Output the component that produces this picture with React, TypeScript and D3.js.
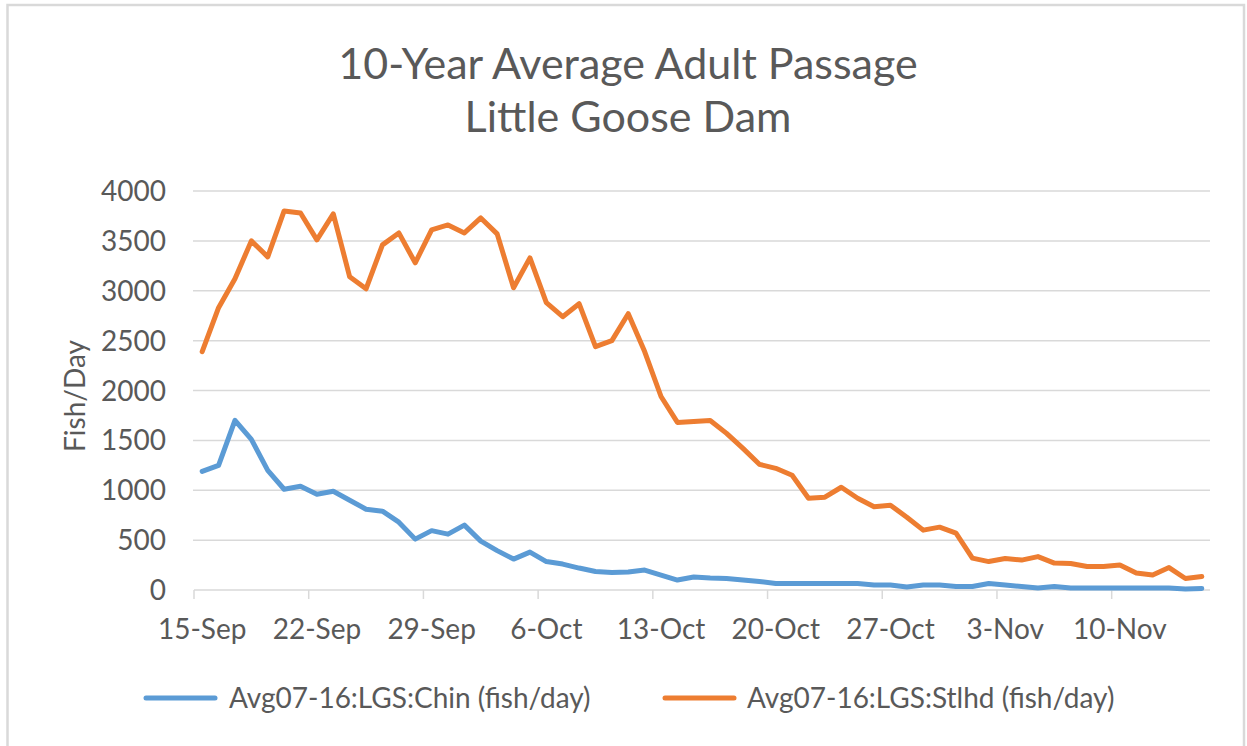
import React from 'react'
import * as d3 from 'd3'

// Sep 15 .. Nov 15, one value per day
const startDate = new Date(2016, 8, 15)
const days = d3.timeDay.range(startDate, new Date(2016, 10, 16))

const chinook = [
  1190, 1250, 1700, 1510, 1200, 1010, 1040, 960, 990, 900,
  810, 790, 680, 510, 595, 560, 650, 490, 395, 310,
  380, 285, 260, 220, 185, 175, 180, 200, 150, 100,
  130, 120, 115, 100, 85, 65, 65, 65, 65, 65,
  65, 50, 50, 30, 50, 50, 35, 35, 65, 50,
  35, 20, 35, 20, 20, 20, 20, 20, 20, 20,
  10, 15
]

const steelhead = [
  2390, 2830, 3120, 3500, 3340, 3800, 3780, 3510, 3770, 3140,
  3020, 3460, 3580, 3280, 3610, 3660, 3580, 3730, 3570, 3030,
  3330, 2880, 2740, 2870, 2440, 2500, 2770, 2390, 1940, 1680,
  1690, 1700, 1570, 1420, 1260, 1220, 1150, 920, 930, 1030,
  920, 835, 850, 730, 600, 630, 570, 320, 285, 315,
  300, 335, 270, 265, 235, 235, 250, 170, 150, 225,
  115, 135
]

const tickLabels = ['15-Sep', '22-Sep', '29-Sep', '6-Oct', '13-Oct', '20-Oct', '27-Oct', '3-Nov', '10-Nov']
const yTicks = [0, 500, 1000, 1500, 2000, 2500, 3000, 3500, 4000]

const series = [
  { name: 'Avg07-16:LGS:Chin (fish/day)', values: chinook, color: '#5B9BD5' },
  { name: 'Avg07-16:LGS:Stlhd (fish/day)', values: steelhead, color: '#ED7D31' }
]

const width = 1247
const height = 746
const plot = { left: 194, right: 1210, top: 191, bottom: 590 }
const font = 'Lato, "Open Sans", sans-serif'
const textColor = '#595959'
const gridColor = '#d9d9d9'

export default function App() {
  const x = d3.scaleBand<number>()
    .domain(d3.range(days.length))
    .range([plot.left, plot.right])
  const y = d3.scaleLinear().domain([0, 4000]).range([plot.bottom, plot.top])
  const cx = (i: number) => (x(i) as number) + x.bandwidth() / 2

  const line = d3.line<number>()
    .x((_, i) => cx(i))
    .y(d => y(d))

  // a tick and a label every 7 days
  const tickIdx = d3.range(0, days.length, 7)

  const legendItems = [
    { x: 146, textX: 229 },
    { x: 665, textX: 747 }
  ]

  return (
    <svg width={width} height={height} style={{ position: 'absolute', left: 0, top: 0, background: '#fff' }}>
      <rect x={7.5} y={5} width={1236.5} height={800} fill="#fff" stroke={gridColor} strokeWidth={2.5} />

      <text x={628} y={79} textAnchor="middle" fontFamily={font} fontSize={43} fill={textColor}>
        10-Year Average Adult Passage
      </text>
      <text x={628} y={132} textAnchor="middle" fontFamily={font} fontSize={43} fill={textColor}>
        Little Goose Dam
      </text>

      {yTicks.map(t => (
        <g key={t}>
          {t > 0 && <line x1={plot.left - 1} x2={plot.right} y1={y(t)} y2={y(t)} stroke={gridColor} strokeWidth={1.5} />}
          <text x={166} y={y(t) + 10} textAnchor="end" fontFamily={font} fontSize={28} fill={textColor}>{t}</text>
        </g>
      ))}

      <line x1={plot.left} x2={plot.right} y1={plot.bottom} y2={plot.bottom} stroke={gridColor} strokeWidth={1.5} />
      {tickIdx.map((i, k) => (
        <g key={i}>
          <line x1={x(i)} x2={x(i)} y1={plot.bottom} y2={plot.bottom + 9} stroke={gridColor} strokeWidth={1.5} />
          <text x={cx(i)} y={639} textAnchor="middle" fontFamily={font} fontSize={28} fill={textColor}>{tickLabels[k]}</text>
        </g>
      ))}

      <text transform="translate(85,396) rotate(-90)" textAnchor="middle" fontFamily={font} fontSize={28} fill={textColor}>
        Fish/Day
      </text>

      {series.map(s => (
        <path key={s.name} d={line(s.values) || ''} fill="none" stroke={s.color} strokeWidth={5}
          strokeLinejoin="round" strokeLinecap="round" />
      ))}

      {series.map((s, k) => (
        <g key={s.name}>
          <line x1={legendItems[k].x} x2={legendItems[k].x + 69} y1={698} y2={698} stroke={s.color} strokeWidth={5} strokeLinecap="round" />
          <text x={legendItems[k].textX} y={708} fontFamily={font} fontSize={28} fill={textColor}>{s.name}</text>
        </g>
      ))}
    </svg>
  )
}
